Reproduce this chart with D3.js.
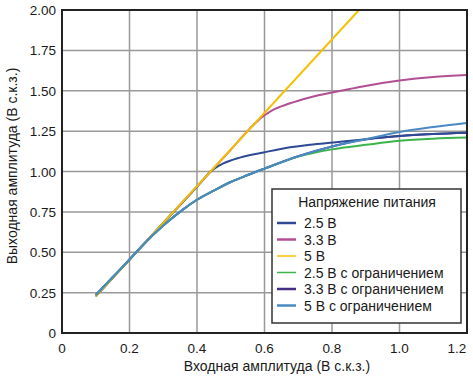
<!DOCTYPE html>
<html><head><meta charset="utf-8">
<script src="https://cdn.jsdelivr.net/npm/d3@7"></script>
<style>body{margin:0;background:#fff}svg text{font-family:"Liberation Sans",Arial,sans-serif;fill:#1a1a1a}</style>
</head><body><svg id="c" width="473" height="379"></svg>
<script>
const xTicks=[0,0.2,0.4,0.6,0.8,1.0,1.2];
const xTickLabels=["0","0.2","0.4","0.6","0.8","1.0","1.2"];
const yTicks=[0,0.25,0.5,0.75,1.0,1.25,1.5,1.75,2.0];
const yTickLabels=["0","0.25","0.50","0.75","1.00","1.25","1.50","1.75","2.00"];
const seriesNames=["2.5 В","3.3 В","5 В","2.5 В с ограничением","3.3 В с ограничением","5 В с ограничением"];
const seriesColors=["#2e4a94","#b04f92","#f5c000","#3cb44a","#452f85","#4a89c4"];
const legendTitle="Напряжение питания";
const xTitle="Входная амплитуда (В с.к.з.)";
const yTitle="Выходная амплитуда (В с.к.з.)";
const v5=[[0.1,0.227],[0.88,2.0]];
const v33=[[0.1,0.227],[0.3,0.681],[0.5,1.135],[0.57,1.294],[0.582,1.318],[0.6,1.348],[0.62,1.376],[0.65,1.403],[0.7,1.438],[0.745,1.464],[0.8,1.489],[0.853,1.511],[0.903,1.531],[1.0,1.563],[1.1,1.585],[1.2,1.597]];
const v25=[[0.1,0.227],[0.3,0.681],[0.42,0.953],[0.4335,0.986],[0.45,1.016],[0.478,1.05],[0.527,1.086],[0.597,1.118],[0.676,1.15],[0.735,1.166],[0.804,1.18],[0.903,1.2],[1.0,1.22],[1.1,1.232],[1.2,1.24]];
const lim5=[[0.1,0.235],[0.15,0.345],[0.2,0.455],[0.24,0.545],[0.3,0.665],[0.36,0.767],[0.4,0.825],[0.45,0.882],[0.5,0.935],[0.55,0.978],[0.6,1.018],[0.7,1.094],[0.8,1.155],[0.9,1.2],[1.0,1.245],[1.1,1.275],[1.2,1.30]];
const lim25=[[0.1,0.235],[0.15,0.345],[0.2,0.455],[0.24,0.545],[0.3,0.665],[0.36,0.767],[0.4,0.825],[0.45,0.882],[0.5,0.935],[0.55,0.978],[0.6,1.018],[0.7,1.092],[0.8,1.137],[0.9,1.165],[1.0,1.19],[1.1,1.203],[1.2,1.21]];
const lim33=[[0.1,0.235],[0.15,0.345],[0.2,0.455],[0.24,0.545],[0.3,0.665],[0.36,0.767],[0.4,0.825],[0.45,0.882],[0.5,0.935],[0.55,0.978],[0.6,1.018],[0.7,1.094],[0.8,1.155],[0.9,1.2],[1.0,1.22],[1.1,1.232],[1.2,1.24]];

const svg=d3.select("#c");
const L=62,R=467,T=10,B=333;
const x=d3.scaleLinear().domain([0,1.2]).range([L,R]);
const y=d3.scaleLinear().domain([0,2]).range([B,T]);
const g=svg.append("g");
g.selectAll(".gx").data(xTicks.slice(1,-1)).join("line").attr("x1",d=>x(d)).attr("x2",d=>x(d)).attr("y1",T).attr("y2",B).attr("stroke","#999").attr("stroke-width",1.5);
g.selectAll(".gy").data(yTicks.slice(1,-1)).join("line").attr("y1",d=>y(d)).attr("y2",d=>y(d)).attr("x1",L).attr("x2",R).attr("stroke","#999").attr("stroke-width",1.5);
svg.append("clipPath").attr("id","cp").append("rect").attr("x",L).attr("y",T).attr("width",R-L).attr("height",B-T);
const line=d3.line().x(d=>x(d[0])).y(d=>y(d[1])).curve(d3.curveMonotoneX);
const order=[[4,lim33],[1,v33],[0,v25],[2,v5],[3,lim25],[5,lim5]];
const lg=svg.append("g").attr("clip-path","url(#cp)");
order.forEach(([i,data])=>{
  lg.append("path").attr("d",line(data)).attr("fill","none").attr("stroke",seriesColors[i]).attr("stroke-width",2);
});
svg.append("rect").attr("x",L).attr("y",T).attr("width",R-L).attr("height",B-T).attr("fill","none").attr("stroke","#222").attr("stroke-width",2);
const fs=13.5, fl=14;
svg.selectAll(".xt").data(xTicks).join("text").attr("x",(d,i)=>i===xTicks.length-1?x(d)-10:x(d)).attr("y",353).attr("text-anchor","middle").attr("font-size",fs).text((d,i)=>xTickLabels[i]);
svg.selectAll(".yt").data(yTicks).join("text").attr("x",56).attr("y",d=>y(d)+5).attr("text-anchor","end").attr("font-size",fs).text((d,i)=>yTickLabels[i]);
svg.append("text").attr("x",277).attr("y",371).attr("text-anchor","middle").attr("font-size",fl).text(xTitle);
svg.append("text").attr("transform","translate(17,166) rotate(-90)").attr("text-anchor","middle").attr("font-size",fl).text(yTitle);
const lgd=svg.append("g");
lgd.append("rect").attr("x",272).attr("y",189).attr("width",189).attr("height",134).attr("fill","#fff").attr("stroke","#333").attr("stroke-width",1.5);
lgd.append("text").attr("x",367).attr("y",207).attr("text-anchor","middle").attr("font-size",fl).text(legendTitle);
seriesNames.forEach((n,i)=>{
  const yy=223+i*16.5;
  lgd.append("line").attr("x1",277).attr("x2",296).attr("y1",yy).attr("y2",yy).attr("stroke",seriesColors[i]).attr("stroke-width",i===2||i===3?1.5:2.5);
  lgd.append("text").attr("x",304).attr("y",yy+5).attr("font-size",fl).text(n);
});
</script></body></html>
